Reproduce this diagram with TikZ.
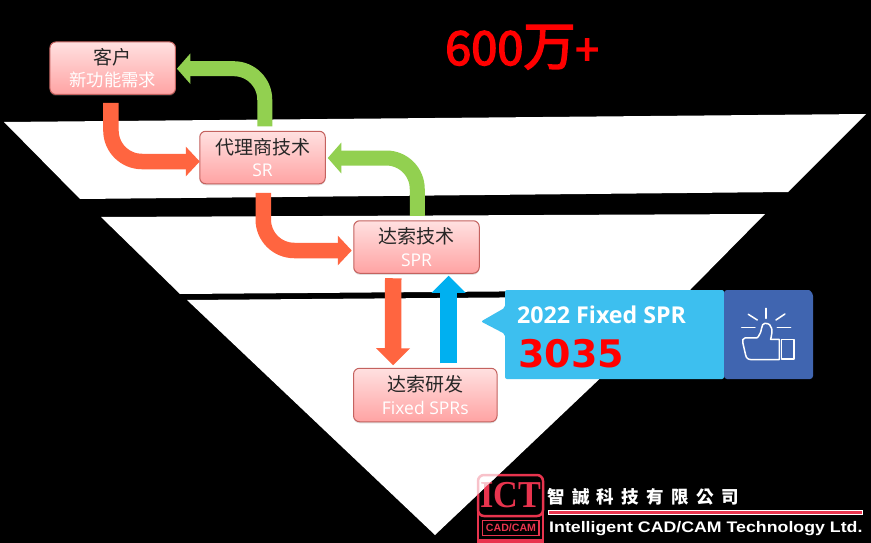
\documentclass[tikz,border=0pt]{standalone}
\usepackage{fontspec}
\usetikzlibrary{arrows.meta,shadows,calc}
\setmainfont{Open Sans}
\newfontfamily\cjk{Noto Sans CJK SC}
\newfontfamily\cjkhead[FakeBold=3]{Noto Sans CJK SC}
\newfontfamily\cjktc[LetterSpace=42]{Noto Sans CJK TC}
\newfontfamily\logolat{Liberation Sans}
\newfontfamily\logoser{Liberation Serif}
\newfontfamily\numfont{DejaVu Sans}
\definecolor{fatorangec}{HTML}{FF6540}
\definecolor{fatgreenc}{HTML}{92D050}
\definecolor{fatbluec}{HTML}{00B0F0}
\definecolor{calloutc}{HTML}{3DBFEF}
\definecolor{paneldark}{HTML}{4065B0}
\definecolor{logored}{HTML}{E8344E}
\definecolor{boxedge}{HTML}{C4625F}
\tikzset{
  plane/.style={fill=white,draw=none},
  stage/.style={rounded corners=6pt,draw=boxedge,line width=1pt,top color=red!12!white,bottom color=red!36!white,
    minimum height=52.5pt,inner sep=0pt,outer sep=0pt,align=center,
    font=\fontsize{19}{23}\selectfont\cjk,text=black!85,
    drop shadow={opacity=.25,shadow xshift=0pt,shadow yshift=-1.5pt}},
  bendorange/.style={draw=fatorangec,line width=15.5pt,rounded corners=31pt,-{Triangle[length=14pt,width=29pt]}},
  bendgreen/.style={draw=fatgreenc,line width=15pt,rounded corners=31pt,-{Triangle[length=13.5pt,width=30pt]}},
  straightorange/.style={draw=fatorangec,line width=16.5pt,-{Triangle[length=17pt,width=33pt]}},
  straightblue/.style={draw=fatbluec,line width=16.5pt,-{Triangle[length=17pt,width=33pt]}},
  iconline/.style={draw=white,line width=1.5pt,line cap=round,line join=round},
}
\newcommand{\subt}[1]{{\fontsize{17.3}{23}\selectfont\cjk\color{white}#1}}
\newcommand{\subl}[1]{{\fontsize{17.5}{23}\selectfont\rmfamily\color{white}#1}}
\begin{document}
\begin{tikzpicture}[x=1pt,y=-1pt]
\useasboundingbox (0,0) rectangle (871,543);
\fill[black] (0,0) rectangle (871,543);
% planes
\fill[plane] (4,122) -- (866,114) -- (788,192) -- (80,199) -- cycle;
\fill[plane] (101,217) -- (765,214) -- (690,290) -- (180,294) -- cycle;
\fill[plane] (187,300) -- (687,296) -- (435,535) -- cycle;
% stages
\node[stage,minimum width=125.5pt] (cust) at (112.7,68.2) {\raisebox{-.8pt}{客户}\\\subt{新功能需求}};
\node[stage,minimum width=125.5pt] (sr) at (262.5,157.5) {\raisebox{-.8pt}{代理商技术}\\\subl{SR}};
\node[stage,minimum width=125.5pt] (spr) at (416.5,247) {\raisebox{-.8pt}{达索技术}\\\subl{SPR}};
\node[stage,minimum width=143.5pt,minimum height=53.5pt] (dev) at (425.3,395) {\raisebox{-.8pt}{达索研发}\\\subl{Fixed SPRs}};
% connectors
\draw[bendorange] ([shift={(61pt,-8.5pt)}]cust.south west) |- ([yshift=-4pt]sr.west);
\draw[bendgreen] ([shift={(65pt,5pt)}]sr.north west) |- ([xshift=1.5pt,yshift=-.5pt]cust.east);
\draw[bendorange] ([shift={(63.5pt,-9pt)}]sr.south west) |- ([xshift=-2pt,yshift=-3.5pt]spr.west);
\draw[bendgreen] ([shift={(63.5pt,5pt)}]spr.north west) |- ([xshift=2.5pt,yshift=-.5pt]sr.east);
\draw[straightorange] ([shift={(39.5pt,-5pt)}]spr.south west) -- ([xshift=39.5pt,yshift=3pt]dev.north west);
\draw[straightblue] ([shift={(95pt,5pt)}]dev.north west) -- ([xshift=95pt,yshift=-2.5pt]dev.north west |- spr.south);
% callout
\fill[calloutc,rounded corners=2pt] (724,290) -- (505,290) -- (505,307.7) -- (481,321.5) -- (505,334) -- (505,379) -- (724,379) -- cycle;
\fill[paneldark] (724,290) -- (809,290) [rounded corners=3pt] -- (813,293) -- (813,379) -- (724,379) -- cycle;
\node[anchor=base west,inner sep=0pt,text=white,font=\fontsize{23.2}{23}\selectfont\bfseries] (fixedlabel) at (517,323.5) {2022 Fixed SPR};
\node[anchor=base west,inner sep=0pt,text=red,font=\fontsize{38}{38}\selectfont\numfont\bfseries] (fixednum) at (518,367) {3035};
% thumb icon
\begin{scope}[shift={(340,210)},x=.3333pt,y=-.3333pt]
\draw[iconline] (1278,295) -- (1278,325);
\draw[iconline] (1225,313) -- (1252,330);
\draw[iconline] (1335,312) -- (1308,330);
\draw[iconline] (1205,353) -- (1245,353);
\draw[iconline] (1312,353) -- (1352,353);
\draw[iconline] (1325,388) -- (1362,388) -- (1362,447) -- (1325,447) -- cycle;
\draw[iconline] (1318,388) -- (1292,388) .. controls (1298,365) and (1300,340) .. (1275,340) .. controls (1262,340) and (1268,365) .. (1255,380) -- (1250,384) -- (1215,384) .. controls (1207,384) and (1207,392) .. (1209,400) -- (1217,435) .. controls (1219,445) and (1225,449) .. (1235,449) -- (1318,449) -- cycle;
\end{scope}
% headline
\node[anchor=base west,inner sep=0pt,text=red,font=\cjkhead] (head) at (445,65) {{\fontsize{47}{47}\selectfont 600}{\fontsize{52}{52}\selectfont 万}{\fontsize{42}{42}\selectfont +}};
% logo
\draw[logored,line width=2.5pt,rounded corners=6pt] (478,475) rectangle (543,516);
\draw[logored,line width=2.5pt] (478,508) -- (478,545) (543,508) -- (543,545);
\fill[logored] (477,539) rectangle (544,543);
\node[anchor=base,inner sep=0pt,text=logored,font=\fontsize{38}{38}\selectfont\logoser\bfseries,xscale=.9] (ict) at (511,507) {ICT};
\draw[logored,line width=1.5pt] (482.5,520.5) rectangle (539,535.5);
\node[inner sep=0pt,text=logored,font=\fontsize{10.6}{11}\selectfont\logolat\bfseries] (cadcam) at (511,528) {CAD/CAM};
\fill[white,opacity=.7] (458,513) -- (517,457) -- (458,457) -- cycle;
\node[anchor=west,inner sep=0pt,text=white,font=\fontsize{17.5}{18}\selectfont\cjktc\bfseries] (cname) at (547,497) {智誠科技有限公司};
\fill[logored,draw=white,line width=.6pt] (548,510.5) rectangle (862,514);
\node[anchor=base west,inner sep=0pt,text=white,font=\fontsize{15.3}{16}\selectfont\logolat\bfseries,xscale=1.16] (ename) at (549,532) {Intelligent CAD/CAM Technology Ltd.};
\end{tikzpicture}
\end{document}
